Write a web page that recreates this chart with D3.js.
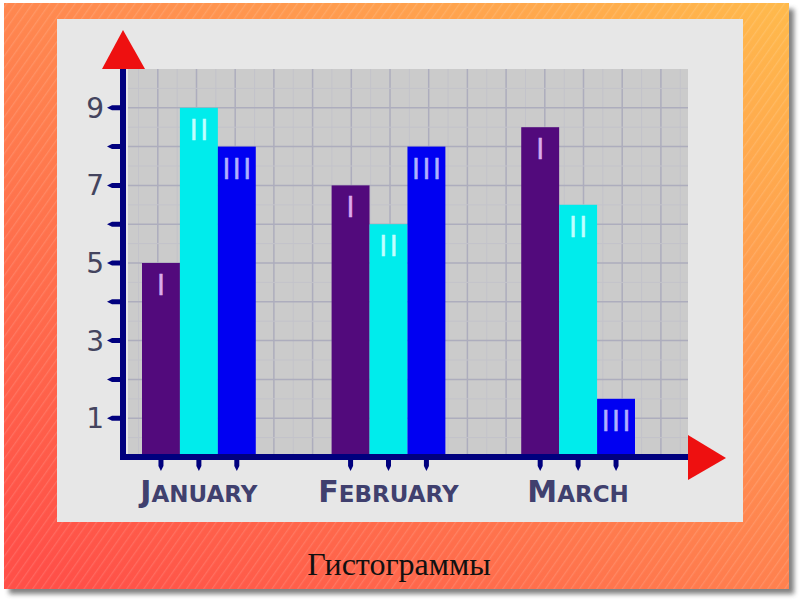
<!DOCTYPE html>
<html><head><meta charset="utf-8">
<script src="https://cdn.jsdelivr.net/npm/d3@7"></script>
<style>html,body{margin:0;padding:0;background:#fff;}svg{display:block;}</style>
</head><body>
<svg id="c" width="800" height="600"></svg>
<script>
// ---- data ----
const months = ["January", "February", "March"];
const seriesNames = ["I", "II", "III"];
const valuesI = [5, 7, 8.5];
const valuesII = [9, 6, 6.5];
const valuesIII = [8, 8, 1.5];
const yTickValues = [1, 2, 3, 4, 5, 6, 7, 8, 9];
const yTickLabels = ["1", "", "3", "", "5", "", "7", "", "9"];
const caption = "Гистограммы";

const seriesValues = [valuesI, valuesII, valuesIII];
const seriesColors = ["#520a7c", "#00ecec", "#0000f2"];
const numeralColors = ["#dcaaec", "#c0ffff", "#b0b0ff"];

const svg = d3.select("#c");
const defs = svg.append("defs");

// background gradient + stripes
const g1 = defs.append("linearGradient").attr("id", "bg")
  .attr("x1", "100%").attr("y1", "0%").attr("x2", "10%").attr("y2", "100%");
g1.append("stop").attr("offset", "0%").attr("stop-color", "#ffba4c");
g1.append("stop").attr("offset", "45%").attr("stop-color", "#ff8c50");
g1.append("stop").attr("offset", "100%").attr("stop-color", "#ff5048");
const pat = defs.append("pattern").attr("id", "stripes").attr("patternUnits", "userSpaceOnUse")
  .attr("width", 7).attr("height", 7).attr("patternTransform", "rotate(35)");
pat.append("line").attr("x1", 0).attr("y1", 0).attr("x2", 0).attr("y2", 7)
  .attr("stroke", "#ffffff").attr("stroke-opacity", 0.13).attr("stroke-width", 2.5);
const blur = defs.append("filter").attr("id", "sh").attr("x", "-5%").attr("y", "-5%").attr("width", "115%").attr("height", "115%");
blur.append("feGaussianBlur").attr("stdDeviation", 2.5);

svg.append("rect").attr("x", 9).attr("y", 9).attr("width", 785).attr("height", 585)
  .attr("fill", "#555").attr("opacity", 0.75).attr("filter", "url(#sh)");
svg.append("rect").attr("x", 4).attr("y", 3).attr("width", 785).attr("height", 586).attr("fill", "url(#bg)");
svg.append("rect").attr("x", 4).attr("y", 3).attr("width", 785).attr("height", 586).attr("fill", "url(#stripes)");

// light panel
svg.append("rect").attr("x", 57).attr("y", 19).attr("width", 686).attr("height", 503).attr("fill", "#e7e7e7");

// scales
const y = d3.scaleLinear().domain([0, 10]).range([457, 69]);
const x = d3.scaleBand().domain(months).range([142, 635]).paddingInner(0.4).paddingOuter(0);
const xs = d3.scaleBand().domain(seriesNames).range([0, x.bandwidth()]).padding(0);
const gx = d3.scaleLinear().domain([-0.77, 13.7]).range([128, 688]);

// plot area
svg.append("rect").attr("x", 128).attr("y", y(10)).attr("width", 560).attr("height", y(0) - y(10)).attr("fill", "#cbcbcb");
const grid = svg.append("g");
d3.range(-0.5, 13.6, 0.5).forEach(u => {
  const major = Number.isInteger(u);
  grid.append("line").attr("x1", gx(u)).attr("x2", gx(u)).attr("y1", y(10)).attr("y2", y(0))
    .attr("stroke", major ? "#adadbd" : "#c3c3ca").attr("stroke-width", major ? 1.5 : 1);
});
d3.range(0.5, 10, 0.5).forEach(v => {
  const major = Number.isInteger(v);
  grid.append("line").attr("x1", 128).attr("x2", 688).attr("y1", y(v)).attr("y2", y(v))
    .attr("stroke", major ? "#adadbd" : "#c3c3ca").attr("stroke-width", major ? 1.5 : 1);
});

// bars
const data = [];
months.forEach((m, i) => seriesNames.forEach((s, j) => data.push({ m, s, j, v: seriesValues[j][i] })));
const bars = svg.append("g");
bars.selectAll("rect").data(data).join("rect")
  .attr("x", d => x(d.m) + xs(d.s)).attr("width", xs.bandwidth())
  .attr("y", d => y(d.v)).attr("height", d => y(0) - y(d.v))
  .attr("fill", d => seriesColors[d.j]);
bars.selectAll("text").data(data).join("text")
  .attr("x", d => x(d.m) + xs(d.s) + xs.bandwidth() / 2 + 1.5)
  .attr("y", d => y(d.v) + 32)
  .attr("text-anchor", "middle")
  .attr("font-family", "DejaVu Sans Condensed, DejaVu Sans")
  .attr("font-size", 28).attr("letter-spacing", 3).attr("stroke-width", 0.6)
  .attr("fill", d => numeralColors[d.j]).attr("stroke", d => numeralColors[d.j])
  .text(d => d.s);

// axes
const navy = "#00007e";
svg.append("line").attr("x1", 123).attr("x2", 123).attr("y1", y(10)).attr("y2", 460)
  .attr("stroke", navy).attr("stroke-width", 6);
svg.append("line").attr("x1", 120).attr("x2", 690).attr("y1", 457).attr("y2", 457)
  .attr("stroke", navy).attr("stroke-width", 6);
svg.append("path").attr("d", "M102,69 L145,69 L123,30 Z").attr("fill", "#ee1010");
svg.append("path").attr("d", "M688,435 L688,480 L726,458 Z").attr("fill", "#ee1010");

// y ticks
const yt = svg.append("g");
yTickValues.forEach((v, i) => {
  yt.append("path").attr("d", `M107,${y(v)} L112,${y(v) - 2.5} L121,${y(v) - 2.5} L121,${y(v) + 2.5} L112,${y(v) + 2.5} Z`)
    .attr("fill", navy);
  if (yTickLabels[i]) {
    yt.append("text").attr("x", 104).attr("y", y(v) + 10).attr("text-anchor", "end")
      .attr("font-family", "DejaVu Sans").attr("font-size", 28).attr("fill", "#44445e")
      .text(yTickLabels[i]);
  }
});

// x ticks
data.forEach(d => {
  const cx = x(d.m) + xs(d.s) + xs.bandwidth() / 2;
  svg.append("path").attr("d", `M${cx - 2.5},459 L${cx + 2.5},459 L${cx + 2.5},466 L${cx},471 L${cx - 2.5},466 Z`).attr("fill", navy);
});

// month labels
months.forEach(m => {
  const t = svg.append("text").attr("x", x(m) + x.bandwidth() / 2).attr("y", 502)
    .attr("text-anchor", "middle").attr("font-family", "DejaVu Sans").attr("font-weight", "bold")
    .attr("fill", "#40406e");
  t.append("tspan").attr("font-size", 30).text(m[0].toUpperCase());
  t.append("tspan").attr("font-size", 23).text(m.slice(1).toUpperCase());
});

// caption
svg.append("text").attr("x", 399).attr("y", 575).attr("text-anchor", "middle")
  .attr("font-family", "Liberation Serif").attr("font-size", 32).attr("fill", "#111")
  .text(caption);
</script>
</body></html>
